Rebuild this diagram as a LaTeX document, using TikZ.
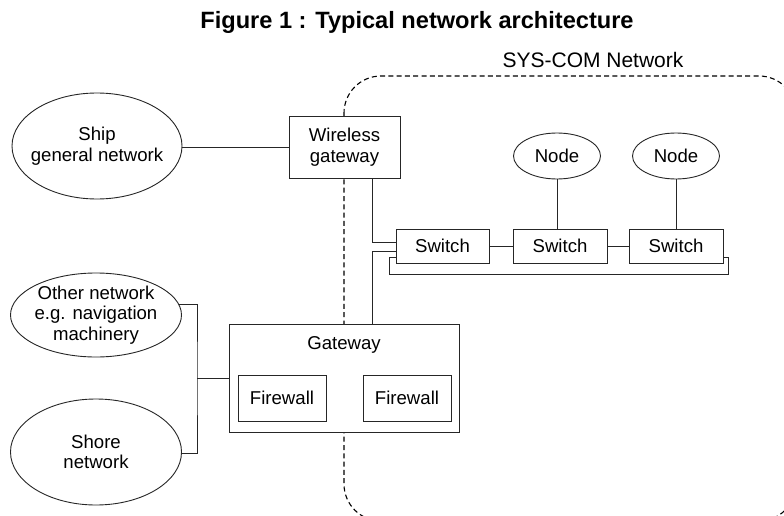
\documentclass[tikz,border=0pt]{standalone}
\usepackage{fontspec}
\setmainfont{Liberation Sans}
\usetikzlibrary{shapes.geometric,calc}
\tikzset{
  base/.style={draw=black!85, line width=0.9pt, inner sep=0pt, outer sep=0pt, align=center, fill=white,
    font=\fontsize{18.6}{20.5}\selectfont},
  box/.style={base, rectangle},
  oval/.style={base, ellipse, inner sep=-20pt},
  wire/.style={draw=black!85, line width=0.9pt},
  zone/.style={draw=black, line width=1.1pt, dash pattern=on 5pt off 3.3pt, rounded corners=37pt},
}
\begin{document}
\begin{tikzpicture}[x=1pt,y=-1pt]
\useasboundingbox (0,0) rectangle (784,516);
% title
\node[font=\fontsize{23.6}{26}\selectfont\bfseries] (title) at (417,22) {Figure 1 : Typical network architecture};
\node[font=\fontsize{21}{24}\selectfont] (sys) at (593,60) {SYS-COM Network};
% zone
\begin{scope}
\clip (0,0) rectangle (784,516);
\draw[zone] (344,76) rectangle (796,521);
\end{scope}
% nodes
\node[oval, minimum width=170pt, minimum height=106pt] (ship) at (97,146) {Ship\\general network};
\node[box, minimum width=111pt, minimum height=62pt] (wg) at (344.5,147) {Wireless\\gateway};
\node[box, minimum width=93pt, minimum height=34pt] (sw1) at (442.5,246) {Switch};
\node[box, minimum width=94pt, minimum height=34pt] (sw2) at (560,246) {Switch};
\node[box, minimum width=94pt, minimum height=34pt] (sw3) at (676,246) {Switch};
\node[oval, minimum width=87pt, minimum height=46pt] (n1) at (557,156) {Node};
\node[oval, minimum width=87pt, minimum height=46pt] (n2) at (676,156) {Node};
\node[oval, minimum width=171pt, minimum height=84pt] (other) at (96,315) {Other network\\e.g. navigation\\machinery};
\node[oval, minimum width=171pt, minimum height=106pt] (shore) at (96,452) {Shore\\network};
\node[box, minimum width=230pt, minimum height=108pt] (gw) at (344,378) {};
\node[base, draw=none, fill=none] (gwl) at (344,345) {Gateway};
\node[box, minimum width=88pt, minimum height=46pt] (fw1) at (282,398) {Firewall};
\node[box, minimum width=88pt, minimum height=46pt] (fw2) at (407,398) {Firewall};
% helper coordinates
\coordinate (wgdown) at (372,242);
\coordinate (gwup) at (372,251);
\coordinate (loopL) at (389,257);
\coordinate (loopR) at (728,274);
\coordinate (fork) at (197,378);
\coordinate (otherpt) at (178.5,304);
\coordinate (shorept) at (181,453);
% connectors
\draw[wire] (wg.west) -- (wg.west -| ship.east);
\draw[wire] (wg.south -| wgdown) |- (wgdown -| sw1.west);
\draw[wire] (gw.north -| gwup) |- (gwup -| sw1.west);
\draw[wire] (sw1) -- (sw2);
\draw[wire] (sw2) -- (sw3);
\draw[wire] (n1) -- (n1 |- sw2.north);
\draw[wire] (n2) -- (sw3);
\draw[wire] (loopL -| sw1.west) -- (loopL) |- (loopR) |- (loopL -| sw3.east);
\draw[wire] (otherpt) -| (fork) |- (shorept);
\draw[wire] (fork) -- (gw.west);
\end{tikzpicture}
\end{document}
